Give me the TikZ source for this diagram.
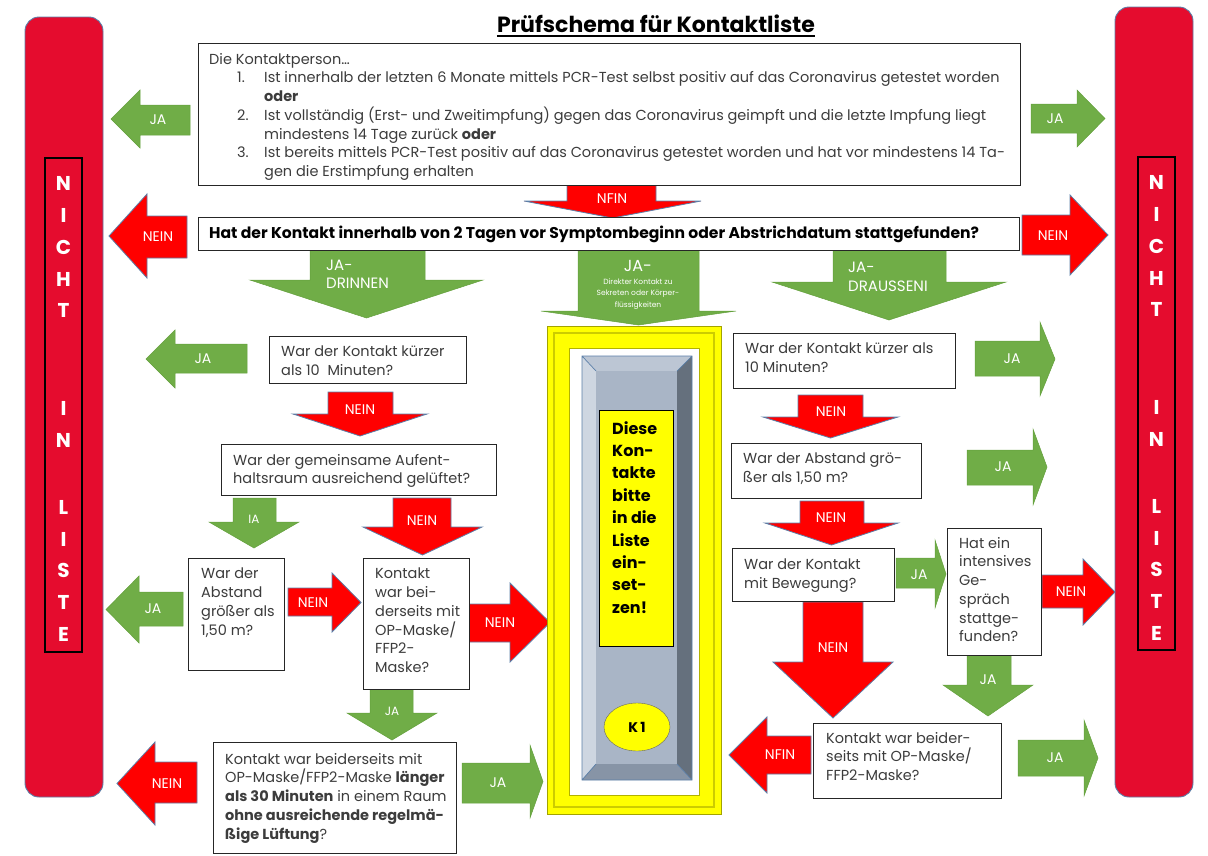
\documentclass[tikz,border=0pt]{standalone}
\usepackage{fontspec}
\setmainfont{Poppins}
\usetikzlibrary{calc,shapes.geometric}
\definecolor{ksbar}{HTML}{E50C2E}
\definecolor{ksred}{HTML}{FF0000}
\definecolor{ksedge}{HTML}{5B7FA8}
\definecolor{ksgreen}{HTML}{70AD47}
\definecolor{ksgreenedge}{HTML}{64A03D}
\definecolor{ksink}{HTML}{3C3C3C}
\definecolor{ksyellow}{HTML}{FFFF00}
\definecolor{ksolive}{HTML}{A3A300}
\definecolor{ksface}{HTML}{A9B5C6}
\definecolor{ksbevtop}{HTML}{BCC6D4}
\definecolor{ksbevleft}{HTML}{CED6E1}
\definecolor{ksbevright}{HTML}{65707D}
\definecolor{ksbevbot}{HTML}{8794A6}
\tikzset{
  qbox/.style={draw=black!85, fill=white, line width=0.9pt, inner sep=0pt, anchor=north west},
  txt/.style={anchor=north west, inner sep=0pt, align=left, text=ksink, font=\fontsize{14.5}{18.7}\selectfont},
  nein/.style={fill=ksred, draw=ksedge, line width=0.8pt},
  ja/.style={fill=ksgreen, draw=ksgreenedge, line width=0.5pt},
  albl/.style={text=white, inner sep=0pt, font=\fontsize{14}{14}\selectfont},
  bar/.style={fill=ksbar, draw=ksedge, line width=0.9pt, rounded corners=14pt},
  barletter/.style={text=white, inner sep=0pt, font=\fontsize{20}{20}\selectfont\bfseries},
}
% tail, base, tip, shaft1, shaft2, head1, head2
\newcommand{\harr}[8]{\path[#1] (#2,#5) -- (#3,#5) -- (#3,#7) -- (#4,{(#7+#8)/2}) -- (#3,#8) -- (#3,#6) -- (#2,#6) -- cycle;}
% shaft1, shaft2, top, base, wing1, wing2, tip
\newcommand{\varr}[8]{\path[#1] (#2,#4) -- (#2,#5) -- (#6,#5) -- ({(#6+#7)/2},#8) -- (#7,#5) -- (#3,#5) -- (#3,#4) -- cycle;}

\begin{document}
\begin{tikzpicture}[x=1pt,y=-1pt]
  \useasboundingbox (0,0) rectangle (1208,855);
  \node[inner sep=0pt, font=\fontsize{22}{26}\selectfont\bfseries] (title) at (656,24) {Prüfschema für Kontaktliste};
  \draw[line width=1.7pt] ([yshift=-3pt]title.base west) -- ([yshift=-3pt]title.base east);

  \draw[bar] (25,17) rectangle (103,797);
  \draw[bar] (1115,7) rectangle (1193,797);
  \draw[line width=1.3pt] (45,158) rectangle (82,652);
  \draw[line width=1.3pt] (1138,157) rectangle (1175,650);
  \foreach \ch/\yy [count=\k] in {N/183,I/215,C/247,H/279,T/310,I/408,N/440,L/507,I/539,S/570,T/602,E/634}
    { \node[barletter] (nl\k) at (63.5,\yy) {\ch}; \node[barletter] (nr\k) at (1156.5,\yy-1) {\ch}; }

  \harr{ja}{190}{140}{111}{105}{135}{90}{148}
  \node[albl] (ja1) at (158,120) {JA};
  \harr{ja}{1031}{1077}{1105}{104}{133}{90}{147}
  \node[albl] (ja2) at (1055,119) {JA};
  \harr{nein}{187}{147}{109}{216}{258}{194}{278}
  \node[albl] (ne1) at (158,237) {NEIN};
  \harr{nein}{1022}{1070}{1108}{215}{255}{195}{275}
  \node[albl] (ne2) at (1053,236) {NEIN};
  \varr{nein}{567}{656}{183}{201}{524}{701}{218}
  \node[albl] (nf1) at (612,199) {NFIN};

  \varr{ja}{310}{425}{250}{280}{250}{483}{318}
  \node[albl, align=left, anchor=west, font=\fontsize{15}{18}\selectfont] (drin) at (326,274) {JA-\\DRINNEN};
  \varr{ja}{578}{699}{250}{311}{541}{736}{325}
  \node[albl, font=\fontsize{16}{16}\selectfont] (jam) at (638,266) {JA-};
  \node[albl, align=center, font=\fontsize{7.5}{11.5}\selectfont] (sek) at (638,294) {Direkter Kontakt zu\\Sekreten oder Körper-\\flüssigkeiten};
  \varr{ja}{833}{946}{250}{282}{772}{1006}{320}
  \node[albl, align=left, anchor=west, font=\fontsize{15}{19}\selectfont] (drau) at (848,277) {JA-\\DRAUSSENI};

  \harr{ja}{247}{175}{146}{344}{373}{330}{388}
  \node[albl] (ja3) at (203,359) {JA};
  \varr{nein}{328}{393}{392}{414}{293}{427}{436}
  \node[albl] (ne3) at (360,410) {NEIN};
  \varr{ja}{233}{276}{498}{522}{209}{299}{548}
  \node[albl, font=\fontsize{12}{13}\selectfont] (ia1) at (254,519) {IA};
  \varr{nein}{393}{451}{498}{527}{363}{482}{555}
  \node[albl] (ne4) at (422,521) {NEIN};
  \harr{ja}{183}{139}{106}{592}{626}{576}{643}
  \node[albl] (ja4) at (153,609) {JA};
  \harr{nein}{288}{332}{361}{588}{616}{573}{632}
  \node[albl] (ne5) at (313,603) {NEIN};
  \harr{nein}{469}{510}{550}{604}{642}{583}{662}
  \node[albl] (ne6) at (500,623) {NEIN};
  \varr{ja}{370}{413}{689}{713}{347}{437}{740}
  \node[albl, font=\fontsize{12}{13}\selectfont] (ja5) at (392,711) {JA};
  \harr{nein}{197}{155}{117}{762}{803}{742}{825}
  \node[albl] (ne7) at (167,784) {NEIN};
  \harr{ja}{462}{530}{543}{763}{803}{745}{818}
  \node[albl] (ja6) at (498,783) {JA};

  \harr{ja}{975}{1040}{1055}{341}{376}{322}{396}
  \node[albl] (ja7) at (1012,359) {JA};
  \varr{nein}{798}{863}{395}{417}{763}{898}{438}
  \node[albl] (ne8) at (831,412) {NEIN};
  \harr{ja}{967}{1033}{1047}{450}{485}{429}{505}
  \node[albl] (ja8) at (1003,467) {JA};
  \varr{nein}{800}{864}{501}{523}{765}{898}{545}
  \node[albl] (ne9) at (831,518) {NEIN};
  \harr{ja}{896}{935}{946}{558}{588}{540}{608}
  \node[albl] (ja9) at (919,575) {JA};
  \harr{nein}{1042}{1083}{1115}{575}{608}{559}{625}
  \node[albl] (ne10) at (1071,592) {NEIN};
  \varr{nein}{803}{863}{602}{662}{773}{893}{718}
  \node[albl] (ne11) at (833,648) {NEIN};
  \varr{ja}{967}{1011}{655}{685}{943}{1033}{716}
  \node[albl] (ja10) at (988,680) {JA};
  \harr{nein}{811}{767}{729}{736}{774}{717}{793}
  \node[albl] (nf2) at (780,755) {NFIN};
  \harr{ja}{1018}{1084}{1098}{740}{776}{720}{796}
  \node[albl] (ja11) at (1055,758) {JA};

  \node[qbox, minimum width=822pt, minimum height=142pt] (kp) at (198,43) {};
  \node[txt] (kptxt) at ([shift={(11,10)}]kp.north west) {Die Kontaktperson…\\
    \makebox[55pt][l]{\hspace*{28pt}1.}Ist innerhalb der letzten 6 Monate mittels PCR-Test selbst positiv auf das Coronavirus getestet worden\\
    \hspace*{55pt}\textbf{oder}\\
    \makebox[55pt][l]{\hspace*{28pt}2.}Ist vollständig (Erst- und Zweitimpfung) gegen das Coronavirus geimpft und die letzte Impfung liegt\\
    \hspace*{55pt}mindestens 14 Tage zurück \textbf{oder}\\
    \makebox[55pt][l]{\hspace*{28pt}3.}Ist bereits mittels PCR-Test positiv auf das Coronavirus getestet worden und hat vor mindestens 14 Ta-\\
    \hspace*{55pt}gen die Erstimpfung erhalten};
  \node[qbox, minimum width=821pt, minimum height=33pt] (q0) at (198,217) {};
  \node[txt, text=black, font=\fontsize{15.6}{18}\selectfont\bfseries] (q0txt) at ([shift={(11,9)}]q0.north west) {Hat der Kontakt innerhalb von 2 Tagen vor Symptombeginn oder Abstrichdatum stattgefunden?};

  \node[qbox, minimum width=197pt, minimum height=47pt] (l1) at (269,336) {};
  \node[txt] (l1txt) at ([shift={(12,10)}]l1.north west) {War der Kontakt kürzer\\als 10\ \ Minuten?};
  \node[qbox, minimum width=275pt, minimum height=51pt] (l2) at (221,444) {};
  \node[txt] (l2txt) at ([shift={(12,10)}]l2.north west) {War der gemeinsame Aufent-\\haltsraum ausreichend gelüftet?};
  \node[qbox, minimum width=96pt, minimum height=112pt] (l3) at (188,558) {};
  \node[txt] (l3txt) at ([shift={(13,10)}]l3.north west) {War der\\Abstand\\größer als\\1,50 m?};
  \node[qbox, minimum width=106pt, minimum height=131pt] (l4) at (363,558) {};
  \node[txt] (l4txt) at ([shift={(12,10)}]l4.north west) {Kontakt\\war bei-\\derseits mit\\OP-Maske/\\FFP2-\\Maske?};
  \node[qbox, minimum width=243pt, minimum height=111pt] (l5) at (213,742) {};
  \node[txt] (l5txt) at ([shift={(12,11)}]l5.north west) {Kontakt war beiderseits mit\\OP-Maske/FFP2-Maske \textbf{länger}\\\textbf{als 30 Minuten} in einem Raum\\\textbf{ohne ausreichende regelmä-}\\\textbf{ßige Lüftung}?};

  \node[qbox, minimum width=222pt, minimum height=55pt] (r1) at (733,333) {};
  \node[txt] (r1txt) at ([shift={(12,10)}]r1.north west) {War der Kontakt kürzer als\\10 Minuten?};
  \node[qbox, minimum width=190pt, minimum height=55pt] (r2) at (731,443) {};
  \node[txt] (r2txt) at ([shift={(12,10)}]r2.north west) {War der Abstand grö-\\ßer als 1,50 m?};
  \node[qbox, minimum width=162pt, minimum height=53pt] (r3) at (732,548) {};
  \node[txt] (r3txt) at ([shift={(12,11)}]r3.north west) {War der Kontakt\\mit Bewegung?};
  \node[qbox, minimum width=94pt, minimum height=127pt] (r4) at (947,528) {};
  \node[txt] (r4txt) at ([shift={(12,9)}]r4.north west) {Hat ein\\intensives\\Ge-\\spräch\\stattge-\\funden?};
  \node[qbox, minimum width=188pt, minimum height=75pt] (r5) at (813,723) {};
  \node[txt] (r5txt) at ([shift={(13,9)}]r5.north west) {Kontakt war beider-\\seits mit OP-Maske/\\FFP2-Maske?};

  \draw[fill=ksyellow, draw=ksolive, line width=1pt] (547,326) rectangle (721,814);
  \draw[draw=ksyellow!80!black, line width=1.5pt] (554,333) rectangle (714,807);
  \draw[fill=white, draw=ksyellow!70!black, line width=0.8pt] (569,348) rectangle (699,795);
  \fill[ksbevtop] (582,356) -- (692,356) -- (677,371) -- (596,371) -- cycle;
  \fill[ksbevleft] (582,356) -- (596,371) -- (596,764) -- (582,780) -- cycle;
  \fill[ksbevright] (692,356) -- (677,371) -- (677,764) -- (692,780) -- cycle;
  \fill[ksbevbot] (582,780) -- (596,764) -- (677,764) -- (692,780) -- cycle;
  \fill[ksface] (596,371) rectangle (677,764);
  \draw[ksedge, line width=0.7pt] (582,356) rectangle (692,780) (582,356) -- (596,371) (692,356) -- (677,371) (582,780) -- (596,764) (692,780) -- (677,764);
  \node[draw=black, fill=ksyellow, line width=0.9pt, inner sep=0pt, anchor=north west, minimum width=74pt, minimum height=236pt] (liste) at (599,410) {};
  \node[anchor=north west, inner sep=0pt, align=left, font=\fontsize{16}{22.4}\selectfont\bfseries] (listetxt) at ([shift={(13,11)}]liste.north west) {Diese\\Kon-\\takte\\bitte\\in die\\Liste\\ein-\\set-\\zen!};
  \node[ellipse, draw=black!60, fill=ksyellow, minimum width=66pt, minimum height=48pt, inner sep=0pt, font=\fontsize{14}{16}\selectfont\bfseries] (k1) at (637,727) {K\,1};
\end{tikzpicture}
\end{document}
